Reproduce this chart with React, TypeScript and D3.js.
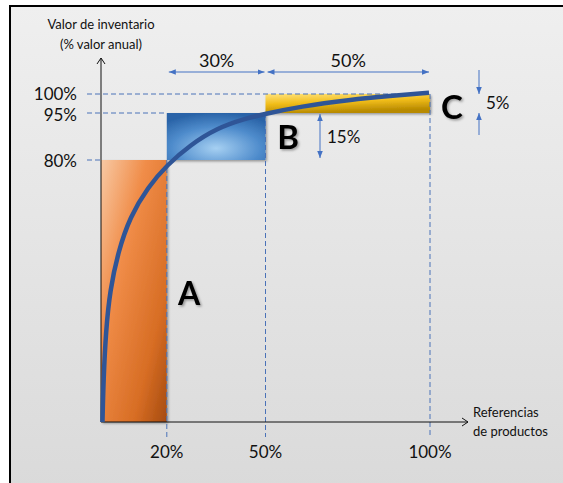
import React from "react";
import * as d3 from "d3";

// ABC classes: share of products (x) and share of annual inventory value (y)
const classes = ["A", "B", "C"];
const productBounds = [0, 20, 50, 100]; // cumulative % of product references
const valueBounds = [0, 80, 95, 100]; // cumulative % of annual value
const xTicks = [20, 50, 100];
const yTicks = [80, 95, 100];
const spanLabels = ["30%", "50%"];
const sideLabels = ["15%", "5%"];

// Pareto curve
const curveX = [0.45, 0.75, 1.5, 2.75, 5.2, 8.8, 14.3, 20.1, 27.1, 35.3, 43.8, 49.8, 60.5, 75.7, 87.8, 99.7];
const curveY = [0, 12.8, 28, 40.3, 51.9, 62.6, 71.8, 78.5, 84.8, 90.2, 93.2, 94.7, 96.7, 98.5, 99.5, 100.3];

const W = 563;
const H = 483;

export default function App() {
  const x = d3.scaleLinear().domain([0, 100]).range([101, 430]);
  const y = d3.scaleLinear().domain([0, 80, 95, 100, 101]).range([422, 160, 113, 94, 90.2]);

  const pts: [number, number][] = curveX.map((v, i) => [x(v), y(curveY[i])]);
  const line = d3.line().curve(d3.curveBasis)(pts) || "";

  const fills = ["url(#gA)", "url(#gB)", "url(#gC)"];
  const font = "Lato, 'Open Sans', sans-serif";
  const dash = "#4a72b8";
  const arrowC = "#4472c4";

  return (
    <svg width={W} height={H} style={{ position: "absolute", left: 0, top: 0 }} fontFamily={font}>
      <defs>
        <linearGradient id="bg" x1="0" y1="0" x2="0" y2="1">
          <stop offset="0" stopColor="#efefef" />
          <stop offset="1" stopColor="#dadada" />
        </linearGradient>
        <linearGradient id="gA" x1="0" y1="0" x2="1" y2="1">
          <stop offset="0" stopColor="#f8c9a4" />
          <stop offset="0.35" stopColor="#f08c48" />
          <stop offset="0.75" stopColor="#d76d24" />
          <stop offset="1" stopColor="#a54b10" />
        </linearGradient>
        <radialGradient id="gB" cx="0.5" cy="0.75" r="0.75">
          <stop offset="0" stopColor="#a6d0f2" />
          <stop offset="0.6" stopColor="#4f8ccc" />
          <stop offset="1" stopColor="#2a64a8" />
        </radialGradient>
        <linearGradient id="gC" x1="0" y1="0" x2="0.3" y2="1">
          <stop offset="0" stopColor="#ffe27a" />
          <stop offset="0.5" stopColor="#f1bd1a" />
          <stop offset="1" stopColor="#b88a00" />
        </linearGradient>
        <filter id="sh" x="-10%" y="-10%" width="130%" height="130%">
          <feDropShadow dx="1.5" dy="1.5" stdDeviation="1.2" floodColor="#000" floodOpacity="0.35" />
        </filter>
        <filter id="tsh" x="-20%" y="-20%" width="150%" height="150%">
          <feDropShadow dx="1.5" dy="1.5" stdDeviation="1" floodColor="#000" floodOpacity="0.35" />
        </filter>
        <marker id="ah" viewBox="0 0 10 10" refX="10" refY="5" markerWidth="7" markerHeight="7" orient="auto-start-reverse" markerUnits="userSpaceOnUse">
          <path d="M0,1 L10,5 L0,9 Z" fill={arrowC} />
        </marker>
      </defs>

      <rect x={0} y={0} width={W} height={H} fill="#fff" />
      <rect x={10} y={6} width={W} height={H} fill="url(#bg)" stroke="#000" strokeWidth={2} />

      {/* class rectangles */}
      {classes.map((c, i) => (
        <rect
          key={c}
          x={x(productBounds[i])}
          y={y(valueBounds[i + 1])}
          width={x(productBounds[i + 1]) - x(productBounds[i])}
          height={y(valueBounds[i]) - y(valueBounds[i + 1])}
          fill={fills[i]}
          filter="url(#sh)"
        />
      ))}

      {/* horizontal guide lines */}
      {yTicks.map((t, i) => (
        <line
          key={"h" + t}
          x1={87}
          x2={t === 100 ? x(100) : x(productBounds[i])}
          y1={y(t)}
          y2={y(t)}
          stroke={dash}
          strokeWidth={1}
          strokeDasharray="5,3"
        />
      ))}
      {/* vertical guide lines */}
      {xTicks.map((t, i) => (
        <line
          key={"v" + t}
          x1={x(t)}
          x2={x(t)}
          y1={y(valueBounds[i + 1])}
          y2={437}
          stroke={dash}
          strokeWidth={1}
          strokeDasharray="5,3"
        />
      ))}

      {/* axes */}
      <line x1={x(0)} y1={y(0)} x2={x(0)} y2={58} stroke="#111" strokeWidth={1} />
      <path d={`M${x(0) - 4},${64} L${x(0)},${58} L${x(0) + 4},${64}`} fill="none" stroke="#111" strokeWidth={1} />
      <line x1={x(0)} y1={y(0)} x2={468} y2={y(0)} stroke="#111" strokeWidth={1} />
      <path d={`M${462},${y(0) - 4} L${468},${y(0)} L${462},${y(0) + 4}`} fill="none" stroke="#111" strokeWidth={1} />

      {/* Pareto curve */}
      <path d={line} fill="none" stroke="#2f5597" strokeWidth={4.5} strokeLinecap="butt" />

      {/* tick labels */}
      {yTicks.map((t) => (
        <text key={"yl" + t} x={77} y={y(t) + (t === 100 ? -1 : t === 95 ? 1 : 0)} textAnchor="end" dominantBaseline="central" fontSize={17} fill="#111">
          {t}%
        </text>
      ))}
      {xTicks.map((t) => (
        <text key={"xl" + t} x={x(t)} y={451} textAnchor="middle" dominantBaseline="central" fontSize={17} fill="#111">
          {t}%
        </text>
      ))}

      {/* axis titles */}
      <text x={101} y={24} textAnchor="middle" dominantBaseline="central" fontSize={13} fill="#111">Valor de inventario</text>
      <text x={101} y={44} textAnchor="middle" dominantBaseline="central" fontSize={13} fill="#111">(% valor anual)</text>
      <text x={473} y={412} dominantBaseline="central" fontSize={13} fill="#111">Referencias</text>
      <text x={473} y={431} dominantBaseline="central" fontSize={13} fill="#111">de productos</text>

      {/* span arrows on top */}
      {[0, 1].map((i) => {
        const x1 = x(productBounds[i + 1]) + 2;
        const x2 = x(productBounds[i + 2]) - 1;
        return (
          <g key={"sp" + i}>
            <line x1={x1} x2={x2} y1={72} y2={72} stroke={arrowC} strokeWidth={1} markerStart="url(#ah)" markerEnd="url(#ah)" />
            <text x={(x1 + x2) / 2} y={60} textAnchor="middle" dominantBaseline="central" fontSize={18} fill="#111">
              {spanLabels[i]}
            </text>
          </g>
        );
      })}

      {/* 15% arrow */}
      <line x1={320} x2={320} y1={y(95) + 1} y2={158} stroke={arrowC} strokeWidth={1} markerStart="url(#ah)" markerEnd="url(#ah)" />
      <text x={327} y={136} dominantBaseline="central" fontSize={17} fill="#111">{sideLabels[0]}</text>

      {/* 5% arrows */}
      <line x1={479} x2={479} y1={70} y2={y(100)} stroke={arrowC} strokeWidth={1} markerEnd="url(#ah)" />
      <line x1={479} x2={479} y1={135} y2={y(95)} stroke={arrowC} strokeWidth={1} markerEnd="url(#ah)" />
      <text x={486} y={102} dominantBaseline="central" fontSize={17} fill="#111">{sideLabels[1]}</text>

      {/* class letters */}
      <text x={189} y={292} textAnchor="middle" dominantBaseline="central" fontSize={32} fontWeight="bold" fill="#000" filter="url(#tsh)">{classes[0]}</text>
      <text x={288} y={136} textAnchor="middle" dominantBaseline="central" fontSize={33} fontWeight="bold" fill="#000" filter="url(#tsh)">{classes[1]}</text>
      <text x={452} y={106} textAnchor="middle" dominantBaseline="central" fontSize={33} fontWeight="bold" fill="#000" filter="url(#tsh)">{classes[2]}</text>
    </svg>
  );
}
